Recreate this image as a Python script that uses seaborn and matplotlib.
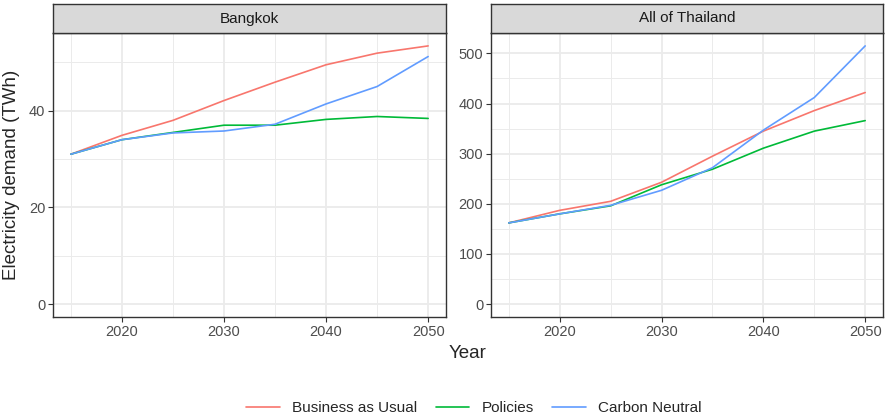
import numpy as np
import pandas as pd
import seaborn as sns
import matplotlib.pyplot as plt
from matplotlib.ticker import MultipleLocator
from matplotlib.lines import Line2D

years = [2015, 2020, 2025, 2030, 2035, 2040, 2045, 2050]
scenarios = ['Business as Usual', 'Policies', 'Carbon Neutral']
regions = ['Bangkok', 'All of Thailand']

# Bangkok (TWh)
bkk_bau = [31.0, 34.9, 38.0, 42.1, 45.9, 49.5, 51.9, 53.4]
bkk_pol = [31.0, 34.0, 35.5, 37.0, 37.0, 38.2, 38.8, 38.4]
bkk_cn = [31.0, 34.0, 35.4, 35.8, 37.2, 41.4, 45.0, 51.2]

# All of Thailand (TWh)
th_bau = [162, 187, 205, 243, 295, 345, 386, 422]
th_pol = [162, 180, 196, 238, 269, 311, 345, 366]
th_cn = [162, 180, 197, 227, 272, 347, 412, 515]

colors = ['#F8766D', '#00BA38', '#619CFF']

series = {
    'Bangkok': [bkk_bau, bkk_pol, bkk_cn],
    'All of Thailand': [th_bau, th_pol, th_cn],
}
rows = []
for reg in regions:
    for sc, vals in zip(scenarios, series[reg]):
        for yr, v in zip(years, vals):
            rows.append({'region': reg, 'scenario': sc, 'year': yr, 'demand': v})
df = pd.DataFrame(rows)

sns.set_theme(style='white')
plt.rcParams['font.family'] = ['Liberation Sans', 'DejaVu Sans']

W, H = 886, 416
fig = plt.figure(figsize=(W / 100, H / 100), dpi=100)

# panel boxes in pixels: (left, right), minor y step
panels = [(53, 446, 'Bangkok', 10), (491, 883, 'All of Thailand', 50)]
top_px, bot_px, strip_top = 33, 317, 4

for x0, x1, reg, step in panels:
    ax = fig.add_axes([x0 / W, (H - bot_px) / H, (x1 - x0) / W, (bot_px - top_px) / H])
    sub = df[df['region'] == reg]
    sns.lineplot(data=sub, x='year', y='demand', hue='scenario', hue_order=scenarios,
                 palette=colors, linewidth=1.2, ax=ax, legend=False)
    ymax = sub['demand'].max()
    ax.set_xlim(2015 - 1.75, 2050 + 1.75)
    ax.set_ylim(-0.05 * ymax, ymax * 1.05)
    ax.xaxis.set_major_locator(MultipleLocator(10))
    ax.xaxis.set_minor_locator(MultipleLocator(5))
    ax.yaxis.set_major_locator(MultipleLocator(step * 2))
    ax.yaxis.set_minor_locator(MultipleLocator(step))
    ax.grid(which='major', color='#EBEBEB', linewidth=1.3)
    ax.grid(which='minor', color='#EBEBEB', linewidth=0.7)
    ax.set_axisbelow(True)
    ax.tick_params(which='major', direction='out', length=3.5, width=0.8, color='#333333',
                   labelsize=10.5, labelcolor='#4D4D4D', bottom=True, left=True, pad=2)
    ax.tick_params(which='minor', length=0)
    for s in ax.spines.values():
        s.set_color('#333333')
        s.set_linewidth(1.0)
    ax.set_xlabel('')
    ax.set_ylabel('')

    sax = fig.add_axes([x0 / W, (H - top_px) / H, (x1 - x0) / W, (top_px - strip_top) / H])
    sax.set_facecolor('#D9D9D9')
    sax.set_xticks([])
    sax.set_yticks([])
    for s in sax.spines.values():
        s.set_color('#333333')
        s.set_linewidth(1.0)
    sax.text(0.5, 0.5, reg, ha='center', va='center', fontsize=11, color='#1A1A1A',
             transform=sax.transAxes)

fig.text(468 / W, (H - 353) / H, 'Year', ha='center', va='center', fontsize=13.5)
fig.text(12 / W, (H - 175) / H, 'Electricity demand (TWh)', ha='center', va='center',
         rotation=90, fontsize=13.5)

handles = [Line2D([0], [0], color=c, linewidth=1.2) for c in colors]
fig.legend(handles, scenarios, loc='center', bbox_to_anchor=(474 / W, (H - 408) / H),
           ncol=3, frameon=False, fontsize=11, handlelength=2.2, columnspacing=1.2,
           handletextpad=0.8)

fig.savefig('out.png', dpi=100)
